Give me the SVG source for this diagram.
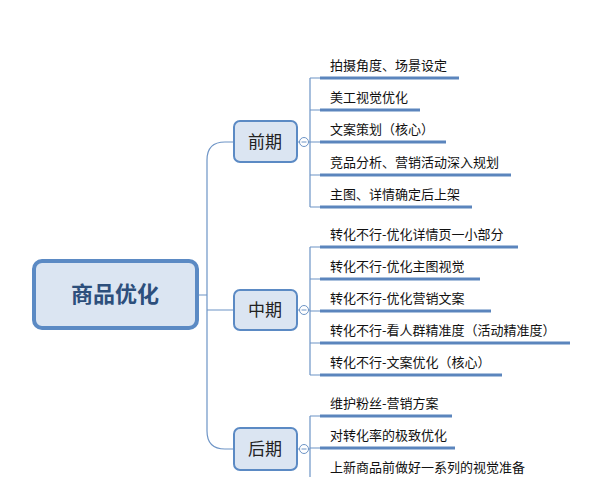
<svg xmlns="http://www.w3.org/2000/svg" width="607" height="477" viewBox="0 0 607 477">
<style>
.t{font-family:"Noto Sans CJK SC","Liberation Sans",sans-serif;font-size:13px;fill:#111}
.b{fill:#dbe5f2;stroke:#5b8ac4;stroke-width:2}
.c{fill:none;stroke:#6d94c6;stroke-width:1.2}
.u{stroke:#5b85bd;stroke-width:3}
.m{font-family:"Noto Sans CJK SC","Liberation Sans",sans-serif;font-size:17px;fill:#222;text-anchor:middle}
</style>
<rect width="607" height="477" fill="#fff"/>
<g id="connectors">
<path class="c" d="M197 295 H207 M225 142 Q207 142 207 160 V431 Q207 449 225 449 H234 M207 310 H234 M225 142 H234"/>
<path class="c" d="M310 78 V207 M310 78 H320 M310 110 H320 M310 142 H320 M310 175 H320 M310 207 H320 M297 142 H310"/>
<path class="c" d="M310 247 V375 M310 247 H320 M310 279 H320 M310 311 H320 M310 343 H320 M310 375 H320 M297 310 H310"/>
<path class="c" d="M310 416 V477 M310 416 H320 M310 448 H320 M297 449 H310"/>
<circle cx="304" cy="142" r="4.5" fill="#fff" stroke="#6d94c6"/><path d="M301.5 142h5" stroke="#6d94c6"/>
<circle cx="304" cy="310" r="4.5" fill="#fff" stroke="#6d94c6"/><path d="M301.5 310h5" stroke="#6d94c6"/>
<circle cx="304" cy="449" r="4.5" fill="#fff" stroke="#6d94c6"/><path d="M301.5 449h5" stroke="#6d94c6"/>
</g>
<g id="root"><rect x="34" y="261" width="163" height="67" rx="8" fill="#dbe5f2" stroke="#5b8ac4" stroke-width="4"/>
<text x="115" y="302" font-family="Noto Sans CJK SC,sans-serif" font-size="22" font-weight="bold" fill="#2d4f7c" text-anchor="middle">商品优化</text></g>
<g id="n1"><rect class="b" x="234" y="121" width="63" height="41" rx="6"/><text class="m" x="265" y="148">前期</text></g>
<g id="n2"><rect class="b" x="234" y="290" width="63" height="40" rx="6"/><text class="m" x="265" y="316">中期</text></g>
<g id="n3"><rect class="b" x="234" y="428" width="63" height="42" rx="6"/><text class="m" x="265" y="455">后期</text></g>
<g id="leaves">
<g><text class="t" x="330" y="70">拍摄角度、场景设定</text><line class="u" x1="320" y1="78" x2="459" y2="78"/></g>
<g><text class="t" x="330" y="102">美工视觉优化</text><line class="u" x1="320" y1="110" x2="420" y2="110"/></g>
<g><text class="t" x="330" y="134">文案策划（核心）</text><line class="u" x1="320" y1="142" x2="446" y2="142"/></g>
<g><text class="t" x="330" y="167">竞品分析、营销活动深入规划</text><line class="u" x1="320" y1="175" x2="511" y2="175"/></g>
<g><text class="t" x="330" y="199">主图、详情确定后上架</text><line class="u" x1="320" y1="207" x2="472" y2="207"/></g>
<g><text class="t" x="330" y="239">转化不行-优化详情页一小部分</text><line class="u" x1="320" y1="247" x2="518" y2="247"/></g>
<g><text class="t" x="330" y="271">转化不行-优化主图视觉</text><line class="u" x1="320" y1="279" x2="480" y2="279"/></g>
<g><text class="t" x="330" y="303">转化不行-优化营销文案</text><line class="u" x1="320" y1="311" x2="491" y2="311"/></g>
<g><text class="t" x="330" y="335">转化不行-看人群精准度（活动精准度）</text><line class="u" x1="320" y1="343" x2="570" y2="343"/></g>
<g><text class="t" x="330" y="367">转化不行-文案优化（核心）</text><line class="u" x1="320" y1="375" x2="502" y2="375"/></g>
<g><text class="t" x="330" y="408">维护粉丝-营销方案</text><line class="u" x1="320" y1="416" x2="452" y2="416"/></g>
<g><text class="t" x="330" y="440">对转化率的极致优化</text><line class="u" x1="320" y1="448" x2="455" y2="448"/></g>
<g><text class="t" x="330" y="472">上新商品前做好一系列的视觉准备</text></g>
</g>
</svg>
